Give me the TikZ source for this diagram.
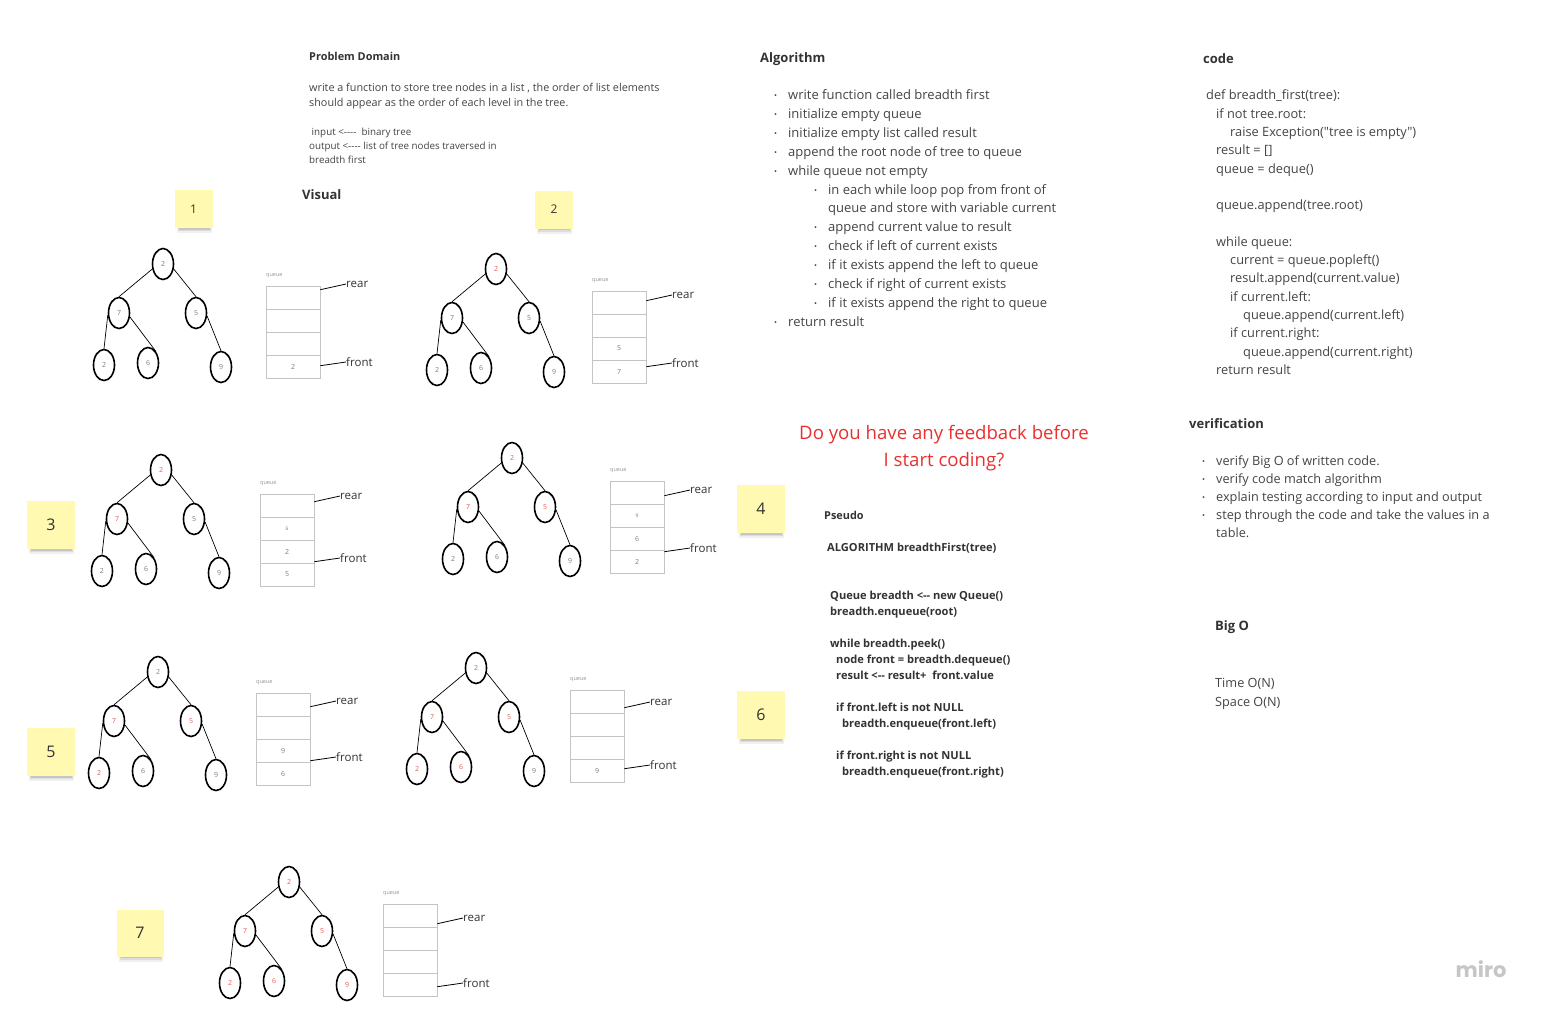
\documentclass[tikz,border=0pt]{standalone}
\usepackage{fontspec}
\newfontfamily\osans{Open Sans}
\newfontfamily\mirofont{Poppins}
\usetikzlibrary{shapes.geometric,calc}
\definecolor{ink}{HTML}{333333}
\definecolor{body}{HTML}{444444}
\definecolor{numred}{HTML}{E35D52}
\definecolor{numgray}{HTML}{7A7A7A}
\definecolor{qline}{HTML}{C4C4C4}
\definecolor{stickyy}{HTML}{FFF9B1}
\definecolor{fbred}{HTML}{E8312F}
\definecolor{mirog}{HTML}{C6C6C6}
\newcommand\bul{\makebox[14pt][l]{\fontsize{8}{8}\selectfont\raisebox{.5pt}{•}}}
\newcommand\bfstree[7]{%
 \node[tn,text=#2] (#1r) at (0,0) {2};
 \node[tn,text=#3] (#1a) at (-44,49) {7};
 \node[tn,text=#4] (#1b) at (33,49) {5};
 \node[tn,text=#5] (#1c) at (-59,101) {2};
 \node[tn,text=#6] (#1d) at (-15,99) {6};
 \node[tn,text=#7] (#1e) at (58,103) {9};
 \draw[edge] (#1r.205) -- (#1a.north);
 \draw[edge] (#1r.-25) -- (#1b.north);
 \draw[edge] (#1a.190) -- (#1c.north);
 \draw[edge] (#1a.-20) -- (#1d.55);
 \draw[edge] (#1b.-15) -- (#1e.north);
}
\newcommand\bfsq[7]{%
 \node[qlab] (#1q) at (0,-10) {queue};
 \node[qcell] (#1c1) at (27,11.5) {#2};
 \node[qcell] (#1c2) at (27,34.5) {#3};
 \node[qcell] (#1c3) at (27,57.5) {#4};
 \node[qcell] (#1c4) at (27,80.5) {#5};
 \node[side] (#1rear) at (80,#6) {rear};
 \node[side] (#1front) at (80,#7) {front};
 \draw[conn] ($(#1c1.north east)+(0,#6+6)$) -- (#1rear.west);
 \draw[conn] ($(#1c1.north east)+(0,#7+4)$) -- (#1front.west);
}
\newcommand\stk[5]{%
 \fill[black,opacity=0.06] (#2-#4/2+2,#3+#4/2-3) rectangle (#2+#4/2-1,#3+#4/2+5);
 \fill[black,opacity=0.08] (#2-#4/2+3,#3+#4/2-2) rectangle (#2+#4/2-2,#3+#4/2+3);
 \fill[black,opacity=0.10] (#2-#4/2+4,#3+#4/2-1) rectangle (#2+#4/2-3,#3+#4/2+1.5);
 \node[sticky,minimum size=#4] (#1) at (#2,#3) {#5};
}
\begin{document}
\osans
\begin{tikzpicture}[x=1pt,y=-1pt,
 tn/.style={ellipse,draw=black,line width=1.6pt,minimum width=21pt,minimum height=31pt,inner sep=0pt,font=\fontsize{7}{8}\selectfont},
 edge/.style={draw=black,line width=0.7pt},
 conn/.style={draw=black,line width=0.8pt},
 qcell/.style={draw=qline,line width=0.6pt,minimum width=54pt,minimum height=23pt,inner sep=0pt,text=numgray,font=\fontsize{7}{8}\selectfont},
 qlab/.style={anchor=west,inner sep=0pt,text=numgray!80,font=\fontsize{5.5}{6}\selectfont},
 side/.style={anchor=west,inner sep=0pt,text=ink,font=\fontsize{11.5}{12}\selectfont},
 sticky/.style={fill=stickyy,inner sep=0pt,text=ink,font=\fontsize{16}{18}\selectfont},
 tx/.style={anchor=west,inner sep=0pt,text height=.72em,text depth=.22em,text=body,yshift=-2.5pt},
 fa/.style={font=\fontsize{13}{15}\selectfont},
 fc/.style={font=\fontsize{12.8}{15}\selectfont},
 fv/.style={font=\fontsize{12.7}{15}\selectfont},
 h12/.style={font=\fontsize{13}{15}\selectfont\bfseries,text=ink},
 f10/.style={font=\fontsize{10.8}{12}\selectfont},
 f9/.style={font=\fontsize{9.8}{11}\selectfont},
 b10/.style={font=\fontsize{10.9}{12}\selectfont\bfseries,text=ink},
 ps/.style={font=\fontsize{11.1}{12}\selectfont\bfseries,text=ink},
]
\useasboundingbox[fill=white] (0,0) rectangle (1542,1013);

% ---------- Problem domain ----------
\node[tx,b10] (pdh) at (309,55) {Problem Domain};
\node[tx,f10] (pd1) at (309,86) {write a function to store tree nodes in a list , the order of list elements};
\node[tx,f10] (pd2) at (309,101) {should appear as the order of each level in the tree.};
\node[tx,f9] (pd3) at (309,130) {\ input <----\ \ binary tree};
\node[tx,f9] (pd4) at (309,144) {output <---- list of tree nodes traversed in};
\node[tx,f9] (pd5) at (309,158) {breadth first};
\node[tx,h12] (vis) at (302,194) {Visual};

% ---------- Algorithm ----------
\node[tx,h12] (alh) at (760,57) {Algorithm};
\node[tx,fa] (al1) at (774,94) {\bul write function called breadth first};
\node[tx,fa] (al2) at (774,113) {\bul initialize empty queue};
\node[tx,fa] (al3) at (774,132) {\bul initialize empty list called result};
\node[tx,fa] (al4) at (774,151) {\bul append the root node of tree to queue};
\node[tx,fa] (al5) at (774,170) {\bul while queue not empty};
\node[tx,fa] (al6) at (814,189) {\bul in each while loop pop from front of};
\node[tx,fa] (al7) at (828,207) {queue and store with variable current};
\node[tx,fa] (al8) at (814,226) {\bul append current value to result};
\node[tx,fa] (al9) at (814,245) {\bul check if left of current exists};
\node[tx,fa] (al10) at (814,264) {\bul if it exists append the left to queue};
\node[tx,fa] (al11) at (814,283) {\bul check if right of current exists};
\node[tx,fa] (al12) at (814,302) {\bul if it exists append the right to queue};
\node[tx,fa] (al13) at (774,321) {\bul return result};

% ---------- code ----------
\node[tx,h12] (cdh) at (1203,58) {code};
\node[tx,fc] (cd1) at (1206,94) {def breadth\_first(tree):};
\node[tx,fc] (cd2) at (1216,113) {if not tree.root:};
\node[tx,fc] (cd3) at (1230,131) {raise Exception("tree is empty")};
\node[tx,fc] (cd4) at (1216,149) {result = []};
\node[tx,fc] (cd5) at (1216,168) {queue = deque()};
\node[tx,fc] (cd6) at (1216,204) {queue.append(tree.root)};
\node[tx,fc] (cd7) at (1216,241) {while queue:};
\node[tx,fc] (cd8) at (1230,259) {current = queue.popleft()};
\node[tx,fc] (cd9) at (1230,277) {result.append(current.value)};
\node[tx,fc] (cd10) at (1230,296) {if current.left:};
\node[tx,fc] (cd11) at (1243,314) {queue.append(current.left)};
\node[tx,fc] (cd12) at (1230,332) {if current.right:};
\node[tx,fc] (cd13) at (1243,351) {queue.append(current.right)};
\node[tx,fc] (cd14) at (1216,369) {return result};

% ---------- feedback ----------
\node[inner sep=0pt,text=fbred,font=\fontsize{18.6}{22}\selectfont,yshift=-3pt] (fb1) at (944,432) {Do you have any feedback before};
\node[inner sep=0pt,text=fbred,font=\fontsize{18.6}{22}\selectfont,yshift=-3pt] (fb2) at (944,459) {I start coding?};

% ---------- Pseudo ----------
\node[tx,b10] (psh) at (824,514) {Pseudo};
\node[tx,ps] (ps1) at (827,546) {ALGORITHM breadthFirst(tree)};
\node[tx,ps] (ps2) at (830,594) {Queue breadth <-- new Queue()};
\node[tx,ps] (ps3) at (830,610) {breadth.enqueue(root)};
\node[tx,ps] (ps4) at (830,642) {while breadth.peek()};
\node[tx,ps] (ps5) at (836,658) {node front = breadth.dequeue()};
\node[tx,ps] (ps6) at (836,674) {result <-- result+\ \ front.value};
\node[tx,ps] (ps7) at (836,706) {if front.left is not NULL};
\node[tx,ps] (ps8) at (842,722) {breadth.enqueue(front.left)};
\node[tx,ps] (ps9) at (836,754) {if front.right is not NULL};
\node[tx,ps] (ps10) at (842,770) {breadth.enqueue(front.right)};

% ---------- verification ----------
\node[tx,h12] (vh) at (1189,423) {verification};
\node[tx,fv] (v1) at (1202,460) {\bul verify Big O of written code.};
\node[tx,fv] (v2) at (1202,478) {\bul verify code match algorithm};
\node[tx,fv] (v3) at (1202,496) {\bul explain testing according to input and output};
\node[tx,fv] (v4) at (1202,514) {\bul step through the code and take the values in a};
\node[tx,fv] (v5) at (1216,532) {table.};
\node[tx,h12] (bo) at (1215,625) {Big O};
\node[tx,fv] (bo1) at (1215,682) {Time O(N)};
\node[tx,fv] (bo2) at (1215,701) {Space O(N)};

% ---------- stickies ----------
\stk{s1}{193.5}{209}{38}{\fontsize{12}{14}\selectfont 1}
\stk{s2}{554}{209.5}{38}{\fontsize{12}{14}\selectfont 2}
\stk{s3}{51}{525}{48}{3}
\stk{s4}{761}{509}{48}{4}
\stk{s5}{51}{752}{48}{5}
\stk{s6}{761}{715}{48}{6}
\stk{s7}{140}{933}{47}{7}

% ---------- trees ----------
\begin{scope}[shift={(163,264)}]\bfstree{ta}{numgray}{numgray}{numgray}{numgray}{numgray}{numgray}\end{scope}
\begin{scope}[shift={(266,286)}]\bfsq{qa}{}{}{}{2}{-2}{76}\end{scope}

\begin{scope}[shift={(496,269)}]\bfstree{tb}{numred}{numgray}{numgray}{numgray}{numgray}{numgray}\end{scope}
\begin{scope}[shift={(592,291)}]\bfsq{qb}{}{}{5}{7}{4}{72}\end{scope}

\begin{scope}[shift={(161,470)}]\bfstree{tc}{numred}{numred}{numgray}{numgray}{numgray}{numgray}\end{scope}
\begin{scope}[shift={(260,494)}]\bfsq{qc}{}{\fontsize{5}{6}\selectfont 6}{2}{5}{2}{64}\end{scope}

\begin{scope}[shift={(512,458)}]\bfstree{td}{numred}{numred}{numred}{numgray}{numgray}{numgray}\end{scope}
\begin{scope}[shift={(610,481)}]\bfsq{qd}{}{\fontsize{5}{6}\selectfont 9}{6}{2}{9}{67}\end{scope}

\begin{scope}[shift={(158,672)}]\bfstree{te}{numred}{numred}{numred}{numred}{numgray}{numgray}\end{scope}
\begin{scope}[shift={(256,693)}]\bfsq{qe}{}{}{9}{6}{8}{64}\end{scope}

\begin{scope}[shift={(476,668)}]\bfstree{tf}{numred}{numred}{numred}{numred}{numred}{numgray}\end{scope}
\begin{scope}[shift={(570,690)}]\bfsq{qf}{}{}{}{9}{12}{75}\end{scope}

\begin{scope}[shift={(289,882)}]\bfstree{tg}{numred}{numred}{numred}{numred}{numred}{numred}\end{scope}
\begin{scope}[shift={(383,904)}]\bfsq{qg}{}{}{}{}{14}{79}\end{scope}

% ---------- logo ----------
\node[inner sep=0pt,text=mirog,font=\mirofont\fontsize{21}{22}\selectfont\bfseries] (miro) at (1481,969) {miro};
\end{tikzpicture}
\end{document}
